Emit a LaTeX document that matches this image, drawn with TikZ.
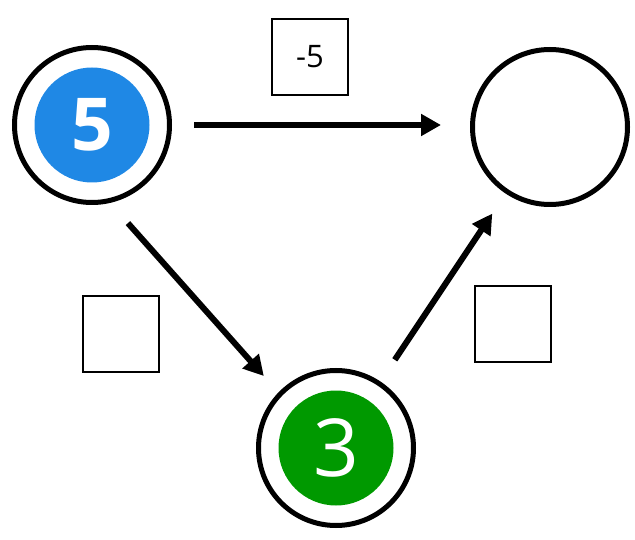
\documentclass[tikz,border=0pt]{standalone}
\usepackage{fontspec}
\setmainfont{Open Sans}
\usetikzlibrary{arrows.meta}
\definecolor{valblue}{RGB}{31,136,229}
\definecolor{valgreen}{RGB}{0,153,0}
\begin{document}
\begin{tikzpicture}[
    x=1pt, y=-1pt,
    ring/.style={circle, draw, line width=5pt, minimum size=155pt, inner sep=0pt},
    valring/.style={ring, text=white, path picture={\fill[#1] (path picture bounding box.center) circle (57.5pt);}},
    weightbox/.style={rectangle, draw, line width=1.8pt, minimum size=76pt, inner sep=0pt, font=\fontsize{31}{31}\selectfont},
    edge/.style={-{Triangle[length=20pt, width=21pt]}, line width=6pt}
]
\useasboundingbox (0,0) rectangle (635,540);

% Vertices
\node[valring=valblue, font=\fontsize{73}{73}\selectfont\bfseries] (src) at (92,125) {5};
\node[ring] (dst) at (550,127) {};
\node[valring=valgreen, font=\fontsize{80}{80}\selectfont] (mid) at (336,448) {3};

% Weights
\node[weightbox] (wsd) at (310,57) {-5};
\node[weightbox] (wsm) at (121,334) {};
\node[weightbox] (wmd) at (513,324) {};

% Arrows
\draw[edge, shorten <=22pt, shorten >=29pt] (src.east) -- (src.east -| dst.west);
\draw[edge, shorten <=27pt, shorten >=22pt] (src.-77) -- (mid.136);
\draw[edge, shorten <=26pt, shorten >=24pt] (mid) -- (dst);

\end{tikzpicture}
\end{document}
